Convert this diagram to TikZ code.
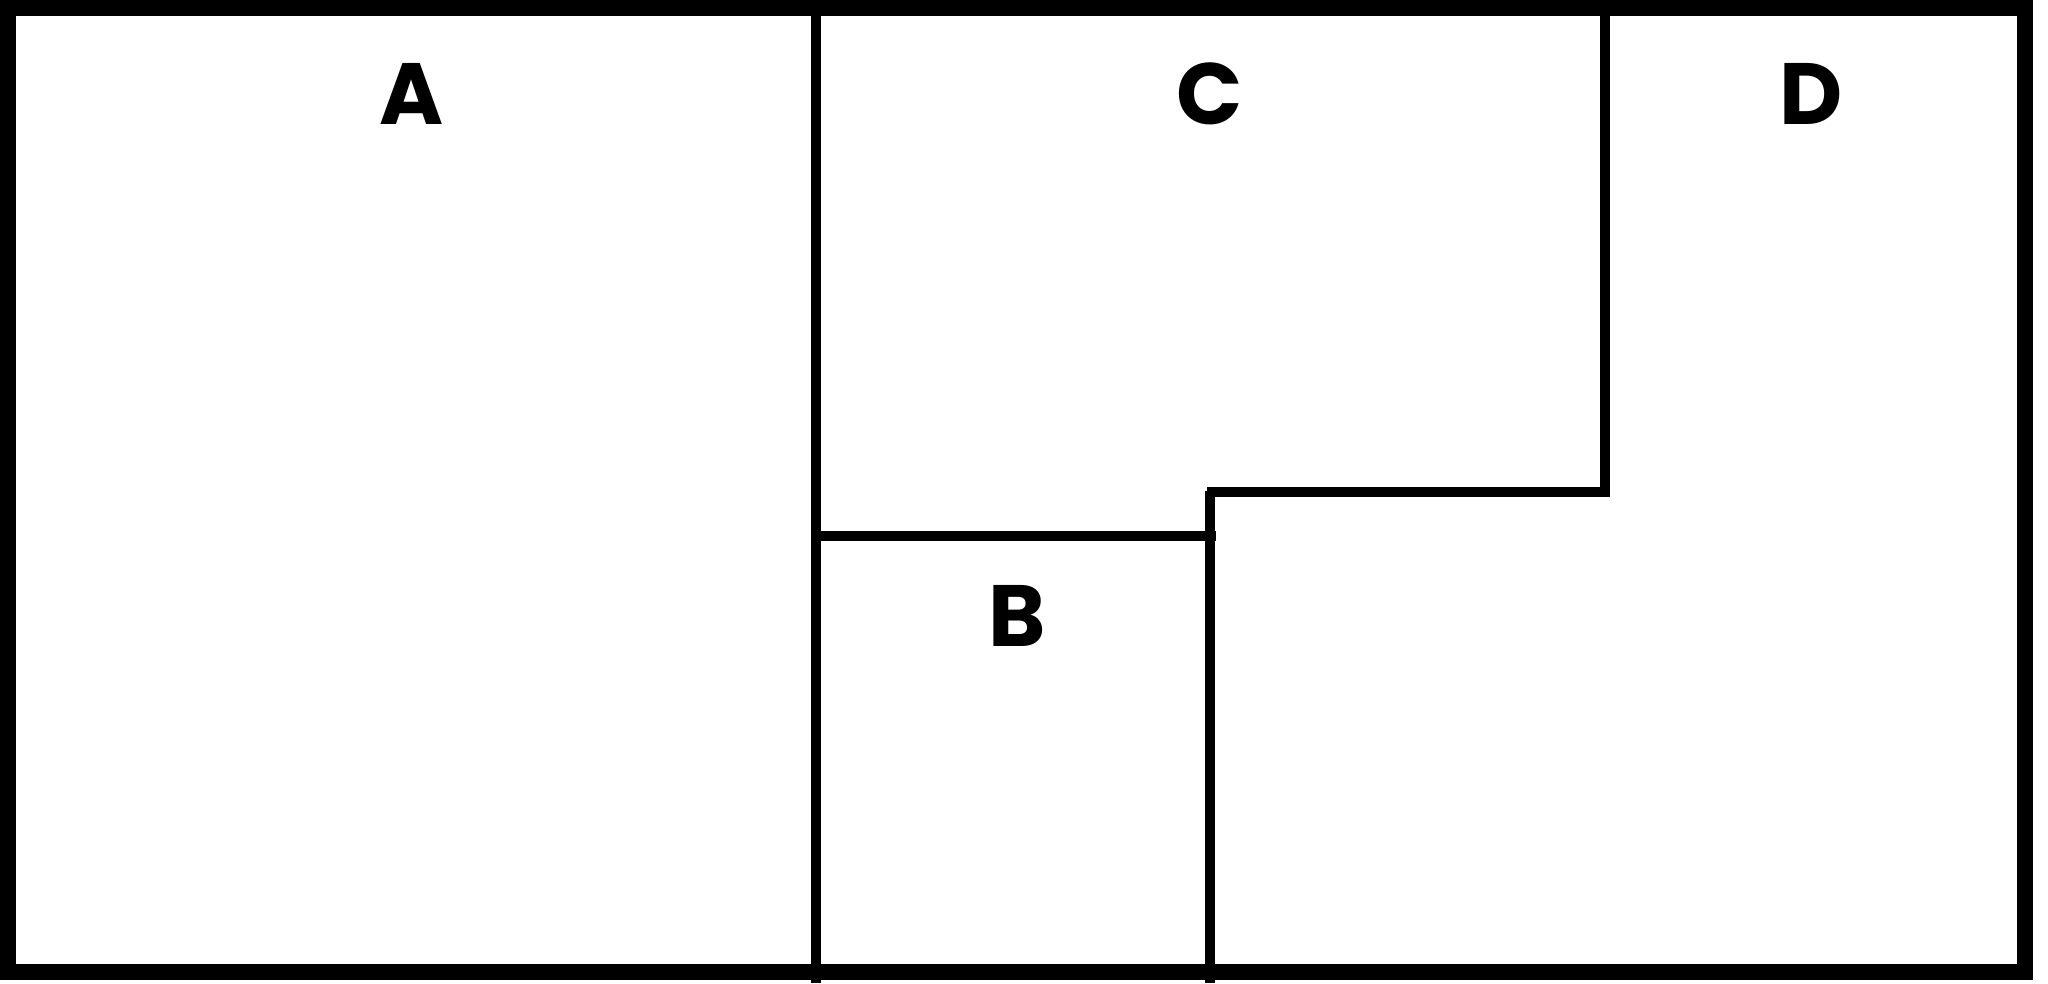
\documentclass[tikz,border=0pt]{standalone}
\usepackage{fontspec}
\setmainfont{Poppins}
\usetikzlibrary{positioning}
\tikzset{
    plan/.style={x=1pt,y=-1pt},
    outerwall/.style={draw=black, line width=16pt},
    wall/.style={draw=black, line width=10pt},
    room/.style={anchor=base, inner sep=0pt, font=\fontsize{87}{87}\selectfont\bfseries},
    }
\begin{document}
\begin{tikzpicture}[plan]
            \useasboundingbox (0,0) rectangle (2048,983);
            \draw[outerwall] (8,8) rectangle (2024.5,971.5);

            \coordinate (ctop) at (815.5,8);
            \coordinate (cbot) at (815.5,983);
            \coordinate (bl) at (815.5,536);
            \coordinate (br) at (1216,536);
            \coordinate (stop) at (1210,491);
            \coordinate (sbot) at (1210,983);
            \coordinate (dl) at (1207,492);
            \coordinate (dr) at (1608,492);
            \coordinate (dtop) at (1605,8);
            \coordinate (dbot) at (1605,497);

            \draw[wall] (ctop) -- (cbot);
            \draw[wall] (bl) -- (br);
            \draw[wall] (stop) -- (sbot);
            \draw[wall] (dl) -- (dr);
            \draw[wall] (dtop) -- (dbot);

            \node[room] (A) at (412,124) {A};
            \node[room] (C) at (1210,124) {C};
            \node[room] (D) at (1811,124) {D};
            \node[room] (B) at (1017,646) {B};
        \end{tikzpicture}
\end{document}
